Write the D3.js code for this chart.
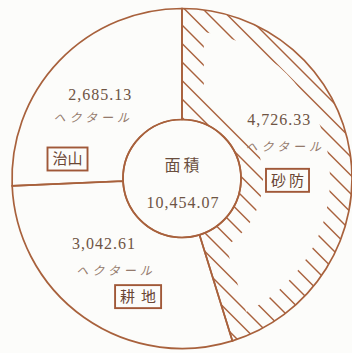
<!DOCTYPE html>
<head>
<meta charset="utf-8">
<style>
body { margin: 0; background: #fcfcfa; }
svg { display: block; }
.num { font-family: "Liberation Serif", serif; font-size: 16px; letter-spacing: 1px; fill: #6e5444; }
.unit { font-family: "Noto Sans CJK JP", sans-serif; font-size: 12px; letter-spacing: 4px; fill: #947a6c; font-style: italic; }
.tag { font-family: "Noto Sans CJK JP", sans-serif; font-size: 15px; fill: #6a4634; }
</style>
</head>
<body>
<script src="https://cdn.jsdelivr.net/npm/d3@7"></script>
<script type="text/javascript">

// data
var categories = ["砂防", "耕地", "治山"];
var areas = [4726.33, 3042.61, 2685.13];
var unitText = "ヘクタール";
var centerTitle = "面積";

var width = 352, height = 353;
var cx = 182, cy = 178.5;
var rOuter = 170, rInner = 59;
var band = 22;          // width of the hatched strip inside 砂防
var lineCol = "#a8613c";

var fmt = d3.format(",.2f");
var total = d3.sum(areas);

var svg = d3.select("body").append("svg")
  .attr("width", width)
  .attr("height", height);

var g = svg.append("g").attr("transform", "translate(" + cx + "," + cy + ")");

var pie = d3.pie().sort(null).value(function(d) { return d.value; });
var arcs = pie(categories.map(function(c, i) { return {name: c, value: areas[i]}; }));

var arc = d3.arc().innerRadius(rInner).outerRadius(rOuter);

// hatch band for 砂防 : sector minus an inset sector
var sabo = arcs[0];
var inset = d3.arc()
  .innerRadius(rInner + band)
  .outerRadius(rOuter - band)
  .padRadius(100)
  .padAngle(2 * band / 100);

svg.append("defs").append("clipPath")
  .attr("id", "bandClip")
  .append("path")
  .attr("clip-rule", "evenodd")
  .attr("d", arc(sabo) + inset(sabo));

// diagonal "\" strokes, lines x - y = c (in centre coordinates)
var step = 18.5;
var cs = d3.range(-13 - step * 20, 13 + step * 20, step);
g.append("g")
  .attr("clip-path", "url(#bandClip)")
  .selectAll("line")
  .data(cs)
  .enter()
  .append("line")
  .attr("x1", -200)
  .attr("y1", function(c) { return -200 - c; })
  .attr("x2", 200)
  .attr("y2", function(c) { return 200 - c; })
  .attr("stroke", lineCol)
  .attr("stroke-width", 1.4);

// sector outlines
g.selectAll("path.sector")
  .data(arcs)
  .enter()
  .append("path")
  .attr("class", "sector")
  .attr("d", arc)
  .attr("fill", "none")
  .attr("stroke", lineCol)
  .attr("stroke-width", 1.7);

g.append("circle")
  .attr("r", rInner)
  .attr("fill", "none")
  .attr("stroke", lineCol)
  .attr("stroke-width", 1.7);

// centre text
g.append("text")
  .attr("class", "tag")
  .attr("x", 1.5)
  .attr("y", -8)
  .attr("text-anchor", "middle")
  .style("font-size", "16px")
  .style("letter-spacing", "3px")
  .style("fill", "#6a4e3e")
  .text(centerTitle);

g.append("text")
  .attr("class", "num")
  .attr("x", 1)
  .attr("y", 29.5)
  .attr("text-anchor", "middle")
  .text(fmt(total));

// label offsets from each sector's centroid: number, unit, boxed name
var labelPos = {
  "砂防": {num: [-16, -36.5], unit: [-10, -10.5], box: [-7.7, 19], ls: 3},
  "耕地": {num: [-12, -23], unit: [0, 3], box: [22, 24.5], ls: 6},
  "治山": {num: [1, 0.7], unit: [-6, 22.7], box: [-31.8, 59.7], ls: 0}
};

var boxes = g.append("g");
arcs.forEach(function(a) {
  var c = arc.centroid(a);
  var p = labelPos[a.data.name];

  g.append("text")
    .attr("class", "num")
    .attr("x", c[0] + p.num[0])
    .attr("y", c[1] + p.num[1])
    .attr("text-anchor", "middle")
    .text(fmt(a.data.value));

  g.append("text")
    .attr("class", "unit")
    .attr("x", c[0] + p.unit[0])
    .attr("y", c[1] + p.unit[1])
    .attr("text-anchor", "middle")
    .text(unitText);

  var bx = c[0] + p.box[0], by = c[1] + p.box[1];
  var t = g.append("text")
    .attr("class", "tag")
    .attr("x", bx + p.ls / 2)
    .attr("y", by)
    .attr("dy", "0.36em")
    .attr("text-anchor", "middle")
    .style("letter-spacing", p.ls + "px")
    .text(a.data.name);
  var w = t.node().getComputedTextLength() - p.ls;
  boxes.append("rect")
    .attr("x", bx - w / 2 - 5)
    .attr("y", by - 11.5)
    .attr("width", w + 10)
    .attr("height", 23)
    .attr("fill", "#fcfcfa")
    .attr("stroke", "#a05838")
    .attr("stroke-width", 1.9);
});

</script>
</body>
